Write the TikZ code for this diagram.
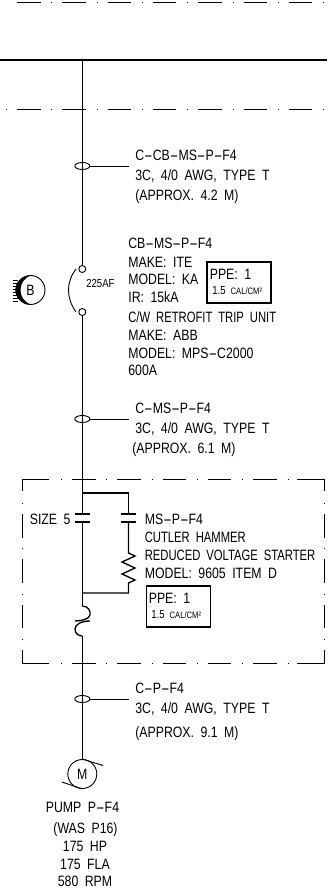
\documentclass[tikz,border=0pt]{standalone}
\usepackage{fontspec}
\setmainfont[FakeStretch=0.82,WordSpace=1.9]{Liberation Sans}
\newfontfamily\narrowcad[FakeStretch=0.75,WordSpace=1.9]{Liberation Sans}
\usetikzlibrary{shapes.geometric}

\tikzset{
    wire/.style={line width=0.8pt},
    thinwire/.style={line width=0.55pt},
    dashdot/.style={thinwire, dash pattern=on 23.5\cf off 10.8\cf on 1\cf off 10\cf},
    dotfirst/.style={dashdot, dash phase=34.3\cf},
    textline/.style={inner sep=0pt, text height=6.6pt, text depth=0pt, font=\cadfont},
    label/.style={textline, anchor=west},
    smalllabel/.style={label, text height=4.8pt, font=\smallcad},
    cable/.style={ellipse, draw, thinwire, minimum width=15\cf, minimum height=7\cf, inner sep=0pt},
    contact/.style={circle, draw, thinwire, minimum size=7\cf, inner sep=0pt},
    ppebox/.style={draw, line width=0.85pt, minimum width=64\cf, minimum height=41\cf, inner sep=0pt}
}
\newcommand{\cf}{*0.6pt}
\newcommand{\cadfont}{\fontsize{9}{10}\selectfont}
\newcommand{\smallcad}{\fontsize{7}{8}\selectfont}
\newcommand{\tinycad}{\fontsize{5.6}{7}\selectfont}
\newcommand{\hy}{\scalebox{2.1}[1]{-}}

\begin{document}
\begin{tikzpicture}[x=0.6pt, y=-0.6pt]
    \useasboundingbox (0, 0) rectangle (327, 889);
    \fill[white] (0, 0) rectangle (327, 889);

    % grid lines
    \draw[dashdot] (17, 2.5) -- (327, 2.5);
    \draw[dotfirst] (6, 109) -- (327, 109);
    \coordinate (bus) at (82.3, 60);
    \draw[wire] (0, 60) -- (327, 60);

    % feeder
    \node[contact] (cbtop) at (82.3, 269) {};
    \node[contact] (cbbot) at (82.3, 312) {};
    \node[circle, draw, thinwire, minimum size=29\cf, inner sep=0pt] (motor) at (82.3, 774) {\cadfont M};
    \draw[wire] (bus) -- (cbtop);
    \coordinate (tapA) at (82.3, 493);
    \coordinate (contA) at (82.3, 514);
    \coordinate (contB) at (82.3, 522);
    \coordinate (tapB) at (82.3, 593);
    \coordinate (olA) at (82.3, 606);
    \coordinate (olB) at (82.3, 636);
    \draw[wire] (cbbot) -- (contA);
    \draw[wire] (contB) -- (olA);
    \draw[wire] (olB) -- (motor);

    % cables
    \foreach \cname/\cy in {cableA/166, cableB/419, cableC/699} {
        \node[cable] (\cname) at (82.3, \cy) {};
        \coordinate (\cname end) at (129, \cy);
        \draw[thinwire] (\cname) -- (\cname end);
    }
    \node[label] (cableAname) at (135, 155) {C\hy CB\hy MS\hy P\hy F4};
    \node[label] (cableAtype) at (135, 175) {3C, 4/0 AWG, TYPE T};
    \node[label] (cableAlen) at (135, 195) {(APPROX. 4.2 M)};
    \node[label] (cableBname) at (135, 408) {C\hy MS\hy P\hy F4};
    \node[label] (cableBtype) at (135, 428) {3C, 4/0 AWG, TYPE T};
    \node[label] (cableBlen) at (132, 448) {(APPROX. 6.1 M)};
    \node[label] (cableCname) at (135, 688) {C\hy P\hy F4};
    \node[label] (cableCtype) at (135, 708) {3C, 4/0 AWG, TYPE T};
    \node[label] (cableClen) at (135, 732) {(APPROX. 9.1 M)};

    % breaker
    \draw[thinwire] (76, 269) .. controls (66, 282) and (66, 298) .. (76, 312);
    \node[smalllabel] (rating) at (86, 283.5) {225AF};
    \node[circle, draw, thinwire, minimum size=29\cf, inner sep=0pt] (tagB) at (30.5, 290) {\cadfont B};
    \fill (31, 275.5) .. controls (10, 278) and (10, 302) .. (31, 304.5)
        .. controls (17, 300) and (17, 280) .. (31, 275.5);
    \foreach \ty in {-10, -7, -4, -1, 2, 5, 8, 11} {
        \draw[line width=0.3pt] (12.5, 290 + \ty) -- (18, 290 + \ty);
    }
    \foreach \tname/\ty/\ttext in {cbname/243/{CB\hy MS\hy P\hy F4}, cbmake/262/{MAKE: ITE}, cbmodel/279/{MODEL: KA}, cbir/297/{IR: 15kA},
            cbtrip/317/{\narrowcad C/W RETROFIT TRIP UNIT}, tripmake/335/{MAKE: ABB}, tripmodel/353/{MODEL: MPS\hy C2000}, tripamps/370/{600A}} {
        \node[label] (\tname) at (128, \ty) {\ttext};
    }
    \node[ppebox] (ppeA) at (239, 282.5) {};
    \node[label] (ppeAa) at (209.5, 274) {PPE: 1};
    \node[smalllabel] (ppeAb) at (212, 290) {1.5 {\tinycad CAL/CM²}};

    % starter
    \draw[thinwire] (22, 491) -- (22, 479) -- (49, 479);
    \draw[thinwire] (297, 479) -- (324.5, 479) -- (324.5, 491);
    \draw[thinwire] (22, 650) -- (22, 663) -- (49, 663);
    \draw[thinwire] (297, 663) -- (324.5, 663) -- (324.5, 650);
    \draw[dotfirst] (61, 479) -- (297, 479);
    \draw[dotfirst] (61, 663) -- (297, 663);
    \draw[dotfirst] (22, 503) -- (22, 650);
    \draw[dotfirst] (324.5, 503) -- (324.5, 650);
    \foreach \py in {514, 522} {
        \draw[wire] (75, \py) -- (90, \py);
        \draw[wire] (121, \py) -- (136, \py);
    }
    \draw[wire] (tapA) -- (128.5, 493) -- (128.5, 514);
    \draw[wire] (128.5, 522) -- (128.5, 553) -- (135, 556) -- (122, 562) -- (135, 568) -- (122, 574) -- (135, 580)
        -- (128.5, 583) -- (128.5, 593) -- (tapB);
    \draw[wire] (olA) .. controls (88, 606) and (91, 611) .. (90, 615) .. controls (89, 619) and (82, 621) .. (75, 621);
    \draw[wire] (90, 621) .. controls (82, 621) and (75, 624) .. (75, 629) .. controls (75, 633) and (78, 636) .. (olB);
    \node[label] (sizelabel) at (29.5, 519) {SIZE 5};
    \foreach \tname/\ty/\ttext in {msname/519/{MS\hy P\hy F4}, msmake/537/{\narrowcad CUTLER HAMMER}, mstype/555/{\narrowcad REDUCED VOLTAGE STARTER}, msmodel/573/{MODEL: 9605 ITEM D}} {
        \node[label] (\tname) at (144.5, \ty) {\ttext};
    }
    \node[ppebox] (ppeB) at (178.5, 606.5) {};
    \node[label] (ppeBa) at (148.5, 598) {PPE: 1};
    \node[smalllabel] (ppeBb) at (151, 614) {1.5 {\tinycad CAL/CM²}};

    % motor
    \coordinate (motorA) at (103, 765.5);
    \coordinate (motorB) at (62, 782);
    \draw[thinwire] (motor.north) -- (motorA);
    \draw[thinwire] (motor.south) -- (motorB);
    \foreach \tname/\tx/\ty/\ttext in {pumpname/82.5/807/{PUMP P\hy F4}, pumpwas/85.5/828/{(WAS P16)}, pumphp/85/846/{175 HP}, pumpfla/85/864/{175 FLA}, pumprpm/85/881/{580 RPM}} {
        \node[textline] (\tname) at (\tx, \ty) {\ttext};
    }
\end{tikzpicture}
\end{document}
